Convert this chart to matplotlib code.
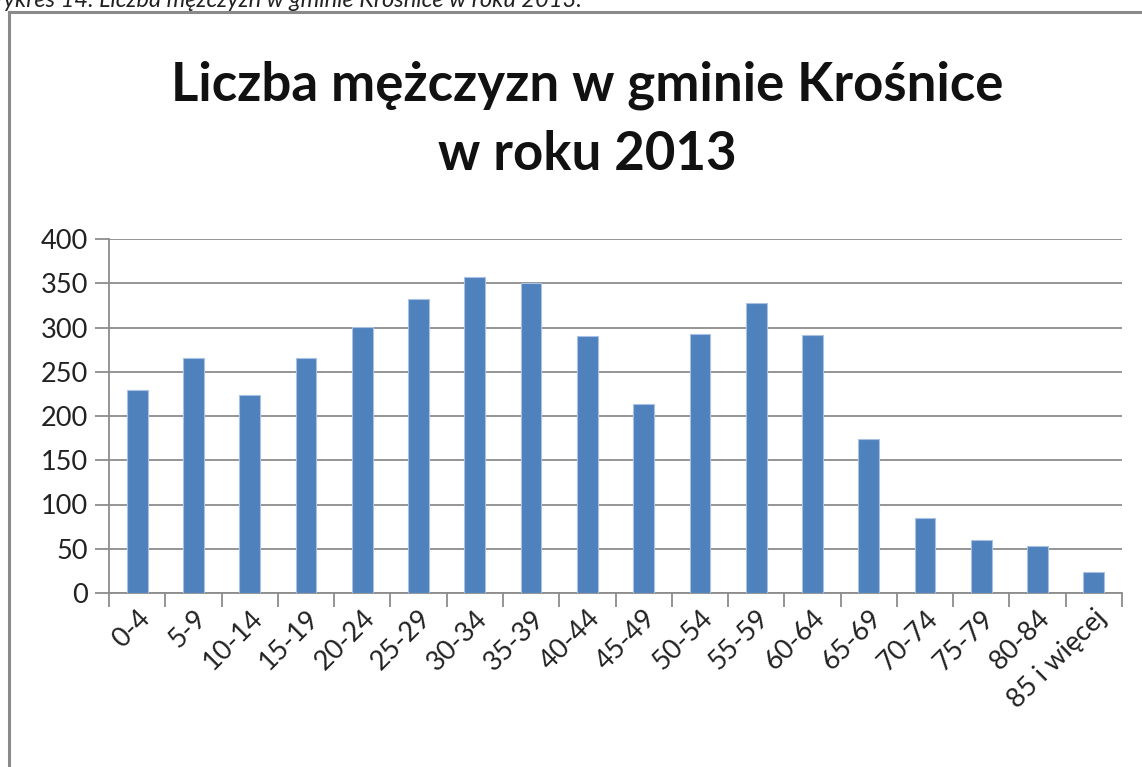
import matplotlib
matplotlib.use("Agg")
import matplotlib.pyplot as plt
from matplotlib.lines import Line2D
import numpy as np

# data
age_groups = ['0-4', '5-9', '10-14', '15-19', '20-24', '25-29', '30-34', '35-39',
              '40-44', '45-49', '50-54', '55-59', '60-64', '65-69', '70-74',
              '75-79', '80-84', '85 i więcej']
men_count = [229, 266, 224, 266, 301, 332, 357, 350,
             290, 214, 293, 328, 291, 174, 85, 60, 53, 24]
y_ticks = [0, 50, 100, 150, 200, 250, 300, 350, 400]

plt.rcParams['font.family'] = ['Lato', 'DejaVu Sans']

W, H = 1142, 767
fig = plt.figure(figsize=(W / 100, H / 100), dpi=100)
fig.patch.set_facecolor('white')

# caption cut off at the top of the page, as in the source
fig.text(-19 / W, 1 - 7 / H, 'Wykres 14. Liczba mężczyzn w gminie Krośnice w roku 2013.',
         fontsize=17, style='italic', va='baseline', ha='left', color='#222222')

# chart border (only left and top visible)
fig.add_artist(Line2D([9 / W, 9 / W], [0, 1 - 12 / H], transform=fig.transFigure,
                      color='#8a8a8a', lw=2.2))
fig.add_artist(Line2D([9 / W, 1], [1 - 12 / H, 1 - 12 / H], transform=fig.transFigure,
                      color='#8a8a8a', lw=2.2))

fig.text(587 / W, 1 - 85 / H, 'Liczba mężczyzn w gminie Krośnice', fontsize=38,
         fontweight='bold', ha='center', va='center', color='#111111')
fig.text(587 / W, 1 - 155 / H, 'w roku 2013', fontsize=38,
         fontweight='bold', ha='center', va='center', color='#111111')

ax = fig.add_axes([109 / W, (H - 593) / H, (1122 - 109) / W, (593 - 239) / H])
x = np.arange(len(age_groups))
ax.bar(x, men_count, width=0.37, color='#4F81BD', edgecolor='#a9c2e3', linewidth=0.8, zorder=3)

ax.set_xlim(-0.5, len(age_groups) - 0.5)
ax.set_ylim(0, 400)
ax.set_yticks(y_ticks)
ax.yaxis.grid(True, color='#8c8c8c', linewidth=1.3, zorder=0)
for s in ['top', 'right']:
    ax.spines[s].set_visible(False)
for s in ['left', 'bottom']:
    ax.spines[s].set_color('#8c8c8c')
    ax.spines[s].set_linewidth(1.3)

ax.set_xticks(x)
ax.set_xticklabels(age_groups, rotation=45, ha='right', rotation_mode='anchor')
ax.set_xticks(np.arange(-0.5, len(age_groups), 1), minor=True)
ax.tick_params(axis='x', which='major', length=0, pad=9, labelsize=19.5)
ax.tick_params(axis='x', which='minor', length=10, width=1.3, color='#8c8c8c')
ax.tick_params(axis='y', length=10, width=1.3, color='#8c8c8c', labelsize=19.5, pad=5)
for t in ax.get_xticklabels() + ax.get_yticklabels():
    t.set_color('#222222')

fig.savefig('out.png', dpi=100, facecolor='white')
